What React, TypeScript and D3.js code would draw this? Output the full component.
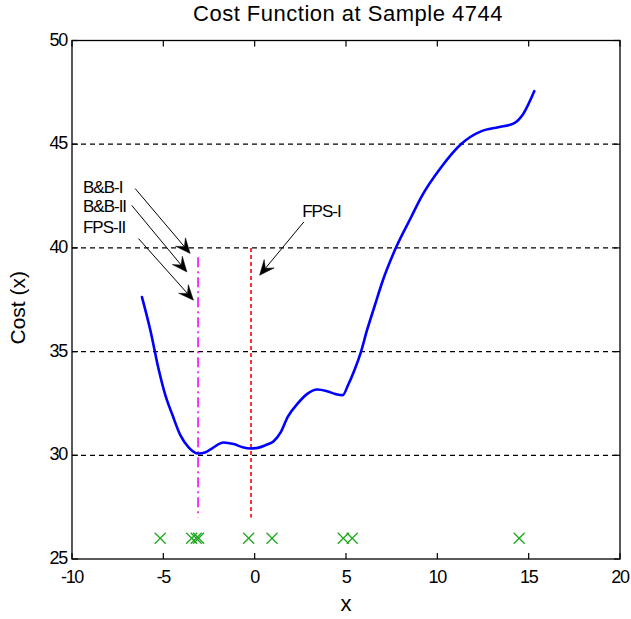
import React from "react";
import * as d3 from "d3";

const curveX = [-6.17, -5.71, -5.27, -4.89, -4.5, -4.07, -3.63, -3.08, -2.69, -2.31, -1.7, -1.15, -0.66, -0.22, 0.22, 0.6, 1.04, 1.43, 1.81, 2.36, 2.86, 3.44, 3.96, 4.45, 4.82, 5.11, 5.46, 5.82, 6.15, 6.55, 7.02, 7.75, 8.57, 9.12, 10.22, 11.32, 12.42, 13.34, 14.16, 14.71, 15.31];
const curveY = [37.63, 36.03, 34.2, 32.9, 31.94, 30.97, 30.4, 30.09, 30.15, 30.35, 30.62, 30.54, 30.39, 30.33, 30.37, 30.49, 30.68, 31.12, 31.85, 32.5, 32.95, 33.17, 33.09, 32.95, 32.9, 33.38, 34.1, 34.99, 36.03, 37.15, 38.44, 40.04, 41.49, 42.45, 43.9, 45.02, 45.63, 45.82, 45.99, 46.47, 47.56];

const sampleX = [-5.17, -3.45, -3.2, -3.07, -0.33, 0.95, 4.85, 5.34, 14.48];
const sampleY = 26;

const xTicks = [-10, -5, 0, 5, 10, 15, 20];
const yTicks = [25, 30, 35, 40, 45, 50];
const gridY = [30, 35, 40, 45];

const magentaX = -3.1;
const magentaRange = [27.0, 39.55];
const redX = -0.2;
const redRange = [27.0, 40];

const annoLabels = ["B&B-I", "B&B-II", "FPS-II", "FPS-I"];
const annoTextX = [-9.4, -9.4, -9.4, 2.6];
const annoTextY = [42.63, 41.74, 40.7, 41.5];
const arrowFromX = [-6.54, -6.73, -6.36, 2.69];
const arrowFromY = [42.86, 42.05, 40.45, 41.25];
const arrowToX = [-3.53, -3.71, -3.35, 0.27];
const arrowToY = [39.73, 38.84, 37.48, 38.68];

const W = 631;
const H = 619;

export default function App() {
  const x = d3.scaleLinear().domain([-10, 20]).range([72, 620]);
  const y = d3.scaleLinear().domain([25, 50]).range([559, 40.5]);
  const left = x(-10), right = x(20), top = y(50), bottom = y(25);

  const pts: [number, number][] = curveX.map((v, i) => [v, curveY[i]]);
  const line = d3.line<[number, number]>().x(d => x(d[0])).y(d => y(d[1])).curve(d3.curveMonotoneX);

  const font = "Arial, 'Liberation Sans', Helvetica, sans-serif";

  const arrowHead = (x1: number, y1: number, x2: number, y2: number) => {
    const dx = x2 - x1, dy = y2 - y1;
    const len = Math.sqrt(dx * dx + dy * dy);
    const ux = dx / len, uy = dy / len;
    const px = -uy, py = ux;
    const L = 15, Wd = 6.5, notch = 9;
    const bx = x2 - ux * L, by = y2 - uy * L;
    const nx = x2 - ux * notch, ny = y2 - uy * notch;
    return `M${x2},${y2} L${bx + px * Wd},${by + py * Wd} L${nx},${ny} L${bx - px * Wd},${by - py * Wd} Z`;
  };

  return (
    <svg width={W} height={H} style={{ position: "absolute", left: 0, top: 0, background: "#fff" }}>
      <rect x={0} y={0} width={W} height={H} fill="#fff" />
      <text x={(left + right) / 2 + 2} y={21} textAnchor="middle" fontFamily={font} fontSize={22} letterSpacing={0.5} fill="#000">
        Cost Function at Sample 4744
      </text>

      {/* grid */}
      {gridY.map(v => (
        <line key={"g" + v} x1={left} x2={right} y1={y(v)} y2={y(v)} stroke="#000" strokeWidth={1.2} strokeDasharray="5,4" />
      ))}

      {/* vertical markers */}
      <line x1={x(magentaX)} x2={x(magentaX)} y1={y(magentaRange[1])} y2={y(magentaRange[0])} stroke="#ff00ff" strokeWidth={1.6} strokeDasharray="10,4,2,4" />
      <line x1={x(redX)} x2={x(redX)} y1={y(redRange[1])} y2={y(redRange[0])} stroke="#ff0000" strokeWidth={1.6} strokeDasharray="4,3" />

      {/* curve */}
      <path d={line(pts) || ""} fill="none" stroke="#0000ff" strokeWidth={2.6} strokeLinejoin="round" strokeLinecap="round" />

      {/* sample markers */}
      {sampleX.map((v, i) => {
        const cx = x(v), cy = y(sampleY), s = 5.5;
        return (
          <g key={"m" + i} stroke="#1fa81f" strokeWidth={1.3}>
            <line x1={cx - s} y1={cy - s} x2={cx + s} y2={cy + s} />
            <line x1={cx - s} y1={cy + s} x2={cx + s} y2={cy - s} />
          </g>
        );
      })}

      {/* annotations */}
      {annoLabels.map((t, i) => (
        <text key={"t" + i} x={x(annoTextX[i])} y={y(annoTextY[i])} fontFamily={font} fontSize={17} letterSpacing={-1} fill="#000">
          {t}
        </text>
      ))}
      {annoLabels.map((t, i) => {
        const x1 = x(arrowFromX[i]), y1 = y(arrowFromY[i]), x2 = x(arrowToX[i]), y2 = y(arrowToY[i]);
        const dx = x2 - x1, dy = y2 - y1, len = Math.sqrt(dx * dx + dy * dy);
        const ex = x2 - (dx / len) * 9, ey = y2 - (dy / len) * 9;
        return (
          <g key={"a" + i}>
            <line x1={x1} y1={y1} x2={ex} y2={ey} stroke="#000" strokeWidth={1} />
            <path d={arrowHead(x1, y1, x2, y2)} fill="#000" stroke="#000" strokeWidth={0.5} />
          </g>
        );
      })}

      {/* axes box */}
      <rect x={left} y={top} width={right - left} height={bottom - top} fill="none" stroke="#000" strokeWidth={1.3} />
      {xTicks.map(v => (
        <g key={"xt" + v}>
          <line x1={x(v)} x2={x(v)} y1={bottom} y2={bottom - 6} stroke="#000" strokeWidth={1.2} />
          <line x1={x(v)} x2={x(v)} y1={top} y2={top + 6} stroke="#000" strokeWidth={1.2} />
          <text x={x(v)} y={bottom + 24} textAnchor="middle" fontFamily={font} fontSize={18} letterSpacing={-1.3} fill="#000">
            {v}
          </text>
        </g>
      ))}
      {yTicks.map(v => (
        <g key={"yt" + v}>
          <line x1={left} x2={left + 6} y1={y(v)} y2={y(v)} stroke="#000" strokeWidth={1.2} />
          <line x1={right} x2={right - 6} y1={y(v)} y2={y(v)} stroke="#000" strokeWidth={1.2} />
          <text x={left - 5} y={y(v) + 5} textAnchor="end" fontFamily={font} fontSize={18} letterSpacing={-1.3} fill="#000">
            {v}
          </text>
        </g>
      ))}

      <text x={(left + right) / 2} y={611} textAnchor="middle" fontFamily={font} fontSize={22} fill="#000">x</text>
      <text transform={`translate(25,${(top + bottom) / 2 + 8}) rotate(-90)`} textAnchor="middle" fontFamily={font} fontSize={21} fill="#000">
        Cost (x)
      </text>
    </svg>
  );
}
